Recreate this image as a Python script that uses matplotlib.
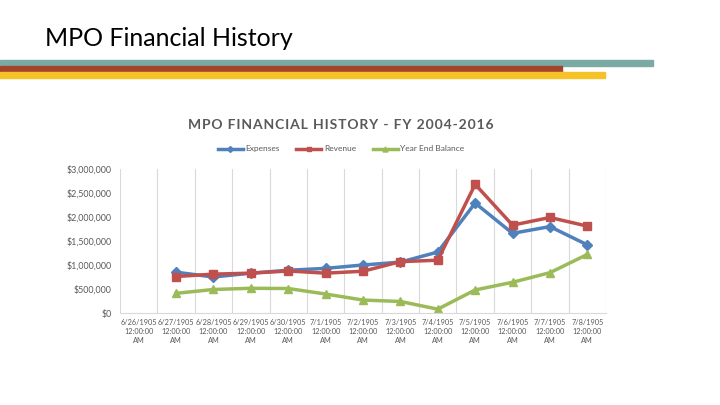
import matplotlib.pyplot as plt
from matplotlib.patches import Rectangle

# Data
dates = ["6/26/1905", "6/27/1905", "6/28/1905", "6/29/1905", "6/30/1905",
         "7/1/1905", "7/2/1905", "7/3/1905", "7/4/1905", "7/5/1905",
         "7/6/1905", "7/7/1905", "7/8/1905"]
expenses = [None, 850000, 750000, 830000, 890000, 930000, 1000000,
            1060000, 1270000, 2290000, 1660000, 1800000, 1420000]
revenue = [None, 760000, 810000, 830000, 875000, 830000, 870000,
           1070000, 1100000, 2680000, 1830000, 1990000, 1810000]
balance = [None, 410000, 490000, 515000, 510000, 395000, 270000,
           240000, 80000, 480000, 640000, 840000, 1220000]
yticks = [0, 500000, 1000000, 1500000, 2000000, 2500000, 3000000]

BLUE = '#4F81BD'
RED = '#C0504D'
GREEN = '#9BBB59'
GREY = '#595959'

plt.rcParams['font.family'] = ['Lato', 'DejaVu Sans']

fig = plt.figure(figsize=(7.2, 4.05), dpi=100)

# Slide header
fig.text(45 / 720, 1 - 38 / 405, "MPO Financial History", fontsize=18,
         color='black', va='center', ha='left')
fig.patches.append(Rectangle((0, 1 - 66 / 405), 653 / 720, 6 / 405,
                             transform=fig.transFigure, color='#7BAAA4'))
fig.patches.append(Rectangle((0, 1 - 72 / 405), 562 / 720, 6 / 405,
                             transform=fig.transFigure, color='#A5442E'))
fig.patches.append(Rectangle((0, 1 - 78 / 405), 605 / 720, 6 / 405,
                             transform=fig.transFigure, color='#F5C227'))

# Chart title, letters spread a little with hair spaces like the original
title = "\u200a".join("MPO FINANCIAL HISTORY - FY 2004-2016")
fig.text(341 / 720, 1 - 125 / 405, title,
         fontsize=10, color=GREY, weight='bold', ha='center', va='center')

ax = fig.add_axes([120 / 720, 1 - 313 / 405, 486 / 720, 144 / 405])
x = list(range(len(dates)))

def pts(vals):
    xs = [i for i, v in zip(x, vals) if v is not None]
    ys = [v for v in vals if v is not None]
    return xs, ys

ax.plot(*pts(expenses), color=BLUE, lw=2.5, marker='D', ms=5, label='Expenses')
ax.plot(*pts(revenue), color=RED, lw=2.5, marker='s', ms=5.5, label='Revenue')
ax.plot(*pts(balance), color=GREEN, lw=2.5, marker='^', ms=6, label='Year End Balance')

ax.set_xlim(-0.5, len(dates) - 0.5)
ax.set_ylim(0, 3000000)
for b in range(len(dates) + 1):
    ax.axvline(b - 0.5, color='#D9D9D9', lw=0.8, zorder=0)

ax.set_yticks(yticks)
ax.set_yticklabels([f"${v:,.0f}" for v in yticks])
ax.set_xticks(x)
ax.set_xticklabels([f"{d}\n12:00:00\nAM" for d in dates], linespacing=1.35)
ax.tick_params(axis='both', length=0, colors=GREY)
ax.tick_params(axis='y', labelsize=6.4, pad=6)
ax.tick_params(axis='x', labelsize=5.3, pad=4)

for s in ['top', 'right', 'left']:
    ax.spines[s].set_visible(False)
ax.spines['bottom'].set_color('#D9D9D9')

handles, labels = ax.get_legend_handles_labels()
fig.legend(handles, labels, loc='center', bbox_to_anchor=(341 / 720, 1 - 149 / 405),
           ncol=3, frameon=False, fontsize=6, labelcolor=GREY,
           handlelength=3, handletextpad=0.3, columnspacing=2, markerscale=0.6)

fig.savefig('out.png', dpi=100)
